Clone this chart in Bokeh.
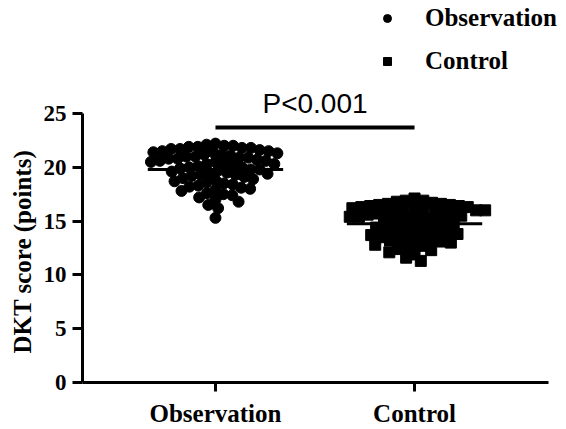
import numpy as np
from bokeh.plotting import figure
from bokeh.models import Range1d, Legend, LegendItem, FixedTicker, Label, Title
from bokeh.embed import file_html
from bokeh.resources import INLINE

categories = ["Observation", "Control"]
observation = [
    22.1, 22.0, 22.0, 21.9, 21.9, 21.8, 21.7, 21.7, 21.6, 21.5,
    21.4, 21.3, 21.2, 21.2, 21.1, 21.0, 21.0, 20.9, 20.8, 20.8,
    20.7, 20.6, 20.5, 20.5, 20.4, 20.3, 20.3, 20.2, 20.1, 20.0,
    20.0, 19.9, 19.8, 19.7, 19.6, 19.5, 19.4, 19.3, 19.2, 19.1,
    19.0, 18.8, 18.7, 18.5, 18.3, 18.2, 18.0, 17.8, 17.6, 17.4,
    17.2, 17.0, 16.8, 16.5, 16.2, 15.3, 20.6, 21.4, 20.9, 19.8,
    18.9, 18.6, 18.4, 18.1, 17.9, 19.3, 19.5, 17.5,
    21.8, 22.2, 21.5,
]
control = [
    17.1, 16.9, 16.8, 16.7, 16.6, 16.6, 16.5, 16.4, 16.4, 16.3,
    16.2, 16.2, 16.1, 16.0, 16.0, 15.9, 15.8, 15.8, 15.7, 15.6,
    15.6, 15.5, 15.4, 15.4, 15.3, 15.2, 15.1, 15.0, 15.0, 14.9,
    14.8, 14.7, 14.6, 14.5, 14.4, 14.3, 14.2, 14.1, 14.0, 13.9,
    13.8, 13.7, 13.6, 13.5, 13.4, 13.3, 13.2, 13.1, 13.0, 12.8,
    12.7, 12.5, 12.3, 12.1, 11.9, 11.6, 11.3, 15.9, 16.3, 15.5,
    12.9, 12.4, 13.5, 13.8, 14.3, 16.5, 16.9, 16.0,
]
y_ticks = [0, 5, 10, 15, 20, 25]
p_text = "P<0.001"
y_label = "DKT score (points)"

# layout constants
W, H = 566, 429
BL, BR, BT, BB = 82, 0, 0, 47
X0 = 0.332
XPX = 199.06
X1 = X0 + (W - BL - BR) / XPX
X_AXIS_END = 2.673
Y0, Y1 = 0.0, 35.5
YPX = (H - BT - BB) / (Y1 - Y0)
SIG_Y = 23.7
SIG_TEXT_Y = 25.9
MARK = 11
HALF_W = 0.34


def swarm(vals, center, d=9.0):
    ys = np.asarray(vals, dtype=float) * YPX
    order = np.argsort(-ys, kind="stable")
    offs = np.zeros(len(ys))
    placed = []
    for i in order:
        y = ys[i]
        iv = []
        for xo, yo in placed:
            dy = abs(y - yo)
            if dy < d:
                w = np.sqrt(d * d - dy * dy)
                iv.append((xo - w, xo + w))
        cands = [0.0] + [a for a, b in iv] + [b for a, b in iv]
        cands.sort(key=lambda c: (abs(c), c))
        for c in cands:
            if all(not (a + 1e-6 < c < b - 1e-6) for a, b in iv):
                offs[i] = c
                break
        placed.append((offs[i], y))
    return center + offs / XPX


serif = "Liberation Serif"
ytitle = Title(text=y_label, align="left", offset=29, standoff=10,
               text_font=serif, text_font_style="bold", text_font_size="25px",
               text_color="black")

p = figure(width=W, height=H, x_range=Range1d(X0, X1), y_range=Range1d(Y0, Y1),
           output_backend="svg", toolbar_location=None,
           title=ytitle, title_location="left",
           min_border_left=BL, min_border_right=BR, min_border_top=BT, min_border_bottom=BB)
p.outline_line_color = None
p.xgrid.visible = False
p.ygrid.visible = False
p.background_fill_color = "white"
p.border_fill_color = "white"

r1 = p.scatter(swarm(observation, 1), observation, marker="circle", size=MARK,
               fill_color="black", line_color="black")
r2 = p.scatter(swarm(control, 2), control, marker="square", size=MARK,
               fill_color="black", line_color="black")

for i, vals in enumerate([observation, control]):
    m = float(np.mean(vals))
    p.segment(x0=[i + 1 - HALF_W], x1=[i + 1 + HALF_W], y0=[m], y1=[m],
              line_color="black", line_width=3)

p.line(x=[1, 2], y=[SIG_Y, SIG_Y], line_color="black", line_width=4)
p.add_layout(Label(x=1.5, y=SIG_TEXT_Y, text=p_text, text_align="center",
                   text_baseline="middle", text_font="Liberation Sans",
                   text_font_size="28px", text_color="black"))

for ax in (p.xaxis[0], p.yaxis[0]):
    ax.axis_line_width = 3
    ax.major_tick_line_width = 3
    ax.minor_tick_line_color = None
    ax.major_tick_in = 0
    ax.major_label_text_font = serif
    ax.major_label_text_font_style = "bold"
    ax.major_label_text_color = "black"
    ax.axis_line_color = "black"
    ax.major_tick_line_color = "black"

p.xaxis.ticker = FixedTicker(ticks=[1, 2])
p.xaxis.bounds = (X0, X_AXIS_END)
p.xaxis.major_label_overrides = {1: categories[0], 2: categories[1]}
p.xaxis.major_label_text_font_size = "25px"
p.xaxis.major_tick_out = 9
p.xaxis.major_label_standoff = 8

p.yaxis.ticker = FixedTicker(ticks=y_ticks)
p.yaxis.bounds = (0, 25)
p.yaxis.major_label_text_font_size = "23px"
p.yaxis.major_tick_out = 10
p.yaxis.major_label_standoff = 6

legend = Legend(items=[LegendItem(label=categories[0], renderers=[r1]),
                       LegendItem(label=categories[1], renderers=[r2])],
                location=(295, 307), border_line_color=None, background_fill_alpha=0,
                padding=0, margin=0, spacing=15, glyph_width=20, glyph_height=20,
                label_standoff=28, label_text_font=serif, label_text_font_style="bold",
                label_text_font_size="25px", label_text_color="black")
p.add_layout(legend)

open("out.html", "w").write(file_html(p, INLINE))
